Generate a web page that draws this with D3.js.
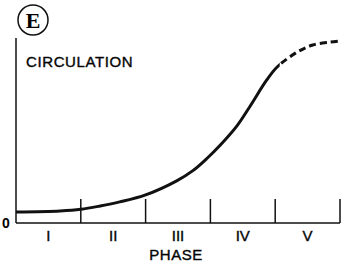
<!DOCTYPE html>
<html>
<head>
<meta charset="utf-8">
<script src="https://cdn.jsdelivr.net/npm/d3@7"></script>
<style>
  body { margin: 0; background: #fff; }
  svg { display: block; }
</style>
</head>
<body>
<script>
// Data (phase units on x, relative circulation on y)
const phases = ['I', 'II', 'III', 'IV', 'V'];
const phaseBounds = [1, 2, 3, 4, 5];
const curvePoints = [
  [0, 5.9], [0.68, 6.5], [1, 7.4], [1.3, 9.2], [1.6, 11.4], [2, 15.2],
  [2.48, 22.8], [2.73, 28.3], [2.95, 35], [3.15, 42], [3.41, 52.5], [3.61, 63],
  [3.87, 77.3], [4.03, 84.3], [4.34, 92.4], [4.58, 96.2], [4.85, 97.8], [5, 98.4]
];
const dashStart = 4.07; // curve turns dashed from here

const width = 348, height = 266;
const margin = { left: 16, right: 8, top: 38, bottom: 43 };
const sans = '"Liberation Sans", Arial, sans-serif';

const svg = d3.select('body').append('svg')
  .attr('width', width)
  .attr('height', height);

const x = d3.scaleLinear().domain([0, 5]).range([margin.left, width - margin.right]);
const y = d3.scaleLinear().domain([0, 100]).range([height - margin.bottom, margin.top]);

// axes
svg.append('line')
  .attr('x1', x(0)).attr('x2', x(0))
  .attr('y1', y(100)).attr('y2', y(0))
  .attr('stroke', '#111').attr('stroke-width', 1.5);

svg.append('line')
  .attr('x1', x(0)).attr('x2', x(5))
  .attr('y1', y(0)).attr('y2', y(0))
  .attr('stroke', '#111').attr('stroke-width', 1.5);

// phase boundary ticks
svg.selectAll('.tick')
  .data(phaseBounds)
  .enter().append('line')
  .attr('class', 'tick')
  .attr('x1', d => x(d)).attr('x2', d => x(d))
  .attr('y1', y(0)).attr('y2', y(0) - 24)
  .attr('stroke', '#111').attr('stroke-width', 1.5);

// phase labels
svg.selectAll('.phase')
  .data(phases)
  .enter().append('text')
  .attr('class', 'phase')
  .attr('x', (d, i) => x(i + 0.5))
  .attr('y', 241)
  .attr('text-anchor', 'middle')
  .style('font-family', sans)
  .style('font-size', '15px')
  .style('stroke', '#111').style('stroke-width', 0.4)
  .text(d => d);

svg.append('text')
  .attr('x', 176).attr('y', 260)
  .attr('text-anchor', 'middle')
  .style('font-family', sans)
  .style('font-size', '15px')
  .style('letter-spacing', '0.5px')
  .style('stroke', '#111').style('stroke-width', 0.4)
  .text('PHASE');

svg.append('text')
  .attr('x', 6).attr('y', 228)
  .attr('text-anchor', 'middle')
  .style('font-family', sans)
  .style('font-size', '14px')
  .style('font-weight', 'bold')
  .text('0');

svg.append('text')
  .attr('x', 26).attr('y', 67)
  .style('font-family', sans)
  .style('font-size', '15px')
  .style('letter-spacing', '0.6px')
  .style('stroke', '#111').style('stroke-width', 0.4)
  .text('CIRCULATION');

// panel marker
svg.append('circle')
  .attr('cx', 33).attr('cy', 20).attr('r', 15)
  .attr('fill', 'none').attr('stroke', '#111').attr('stroke-width', 1.5);
svg.append('text')
  .attr('x', 33).attr('y', 28)
  .attr('text-anchor', 'middle')
  .style('font-family', '"Liberation Serif", "DejaVu Serif", serif')
  .style('font-weight', 'bold')
  .style('font-size', '22px')
  .text('E');

// curve: one smooth path, split into solid and dashed parts by clipping
const line = d3.line()
  .x(d => x(d[0]))
  .y(d => y(d[1]))
  .curve(d3.curveCatmullRom.alpha(0.5));

const defs = svg.append('defs');
defs.append('clipPath').attr('id', 'clip-solid')
  .append('rect')
  .attr('x', 0).attr('y', 0)
  .attr('width', x(dashStart)).attr('height', height);
defs.append('clipPath').attr('id', 'clip-dash')
  .append('rect')
  .attr('x', x(dashStart)).attr('y', 0)
  .attr('width', width - x(dashStart)).attr('height', height);

svg.append('path')
  .datum(curvePoints)
  .attr('d', line)
  .attr('clip-path', 'url(#clip-solid)')
  .attr('fill', 'none')
  .attr('stroke', '#111')
  .attr('stroke-width', 3);

svg.append('path')
  .datum(curvePoints.filter(d => d[0] >= 3.87))
  .attr('d', line)
  .attr('clip-path', 'url(#clip-dash)')
  .attr('fill', 'none')
  .attr('stroke', '#111')
  .attr('stroke-width', 3)
  .attr('stroke-dasharray', '7,4');
</script>
</body>
</html>
